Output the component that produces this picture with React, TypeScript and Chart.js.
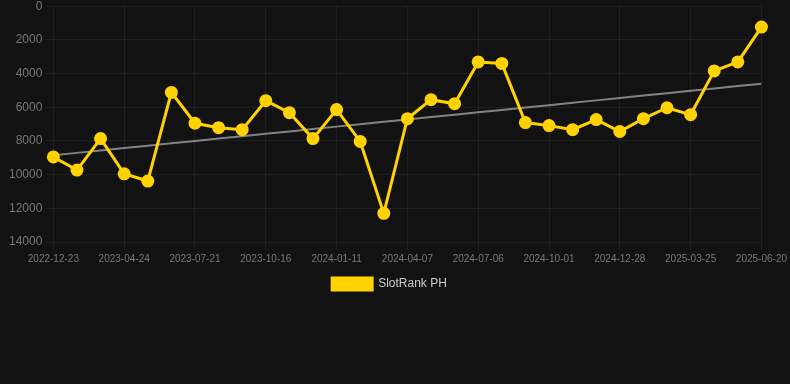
import React, { useEffect, useRef } from "react";
import { Chart, registerables } from "chart.js";

Chart.register(...registerables);

const labels: string[] = [
  "2022-12-23", "2023-02-01", "2023-03-14",
  "2023-04-24", "2023-05-23", "2023-06-21",
  "2023-07-21", "2023-08-19", "2023-09-17",
  "2023-10-16", "2023-11-14", "2023-12-13",
  "2024-01-11", "2024-02-09", "2024-03-09",
  "2024-04-07", "2024-05-07", "2024-06-06",
  "2024-07-06", "2024-08-04", "2024-09-02",
  "2024-10-01", "2024-10-30", "2024-11-28",
  "2024-12-28", "2025-01-26", "2025-02-24",
  "2025-03-25", "2025-04-23", "2025-05-22",
  "2025-06-20",
];

const rankValues: number[] = [
  8950, 9730, 7860, 9950, 10380, 5120, 6950, 7210, 7330, 5610,
  6320, 7860, 6140, 8030, 12300, 6680, 5550, 5790, 3310, 3400,
  6910, 7090, 7330, 6730, 7440, 6680, 6030, 6440, 3840, 3310,
  1240,
];

const trendStart = 8850;
const trendEnd = 4600;

const yTicks: number[] = [0, 2000, 4000, 6000, 8000, 10000, 12000, 14000];

const YELLOW = "#FFD200";
const GRID = "rgba(255,255,255,0.055)";
const FONT = "Arial, 'Liberation Sans', sans-serif";

export default function App() {
  const ref = useRef<HTMLCanvasElement | null>(null);

  useEffect(() => {
    document.body.style.margin = "0";
    document.body.style.background = "#121212";
    if (!ref.current) return;
    const n = labels.length;
    const trend = labels.map((_, i) => trendStart + ((trendEnd - trendStart) * i) / (n - 1));
    const chart = new Chart(ref.current, {
      type: "line",
      data: {
        labels,
        datasets: [
          {
            label: "SlotRank PH",
            data: rankValues,
            borderColor: YELLOW,
            backgroundColor: YELLOW,
            borderWidth: 3,
            pointRadius: 5,
            pointHoverRadius: 5,
            pointBackgroundColor: YELLOW,
            pointBorderColor: YELLOW,
            tension: 0,
          },
          {
            label: "trend",
            data: trend,
            borderColor: "rgba(150,150,150,0.85)",
            backgroundColor: "rgba(150,150,150,0.85)",
            borderWidth: 2,
            pointRadius: 0,
            tension: 0,
          },
        ],
      },
      options: {
        animation: false,
        responsive: false,
        maintainAspectRatio: false,
        layout: { padding: { left: 6, right: 17, top: -8, bottom: 0 } },
        plugins: {
          tooltip: { enabled: false },
          legend: {
            position: "bottom",
            labels: {
              filter: (item) => item.text !== "trend",
              boxWidth: 40,
              boxHeight: 12,
              color: "#cccccc",
              font: { family: FONT, size: 12 },
              padding: 10,
            },
          },
        },
        scales: {
          x: {
            grid: {
              color: (ctx) => (ctx.index % 3 === 0 ? GRID : "rgba(0,0,0,0)"),
              drawTicks: true,
              tickLength: 8,
            },
            border: { display: false },
            ticks: {
              color: "#777777",
              font: { family: FONT, size: 10 },
              autoSkip: false,
              maxRotation: 0,
              minRotation: 0,
              callback: (_v, i) => (i % 3 === 0 ? labels[i] : ""),
            },
          },
          y: {
            reverse: true,
            min: 0,
            max: 14000,
            afterBuildTicks: (axis) => {
              axis.ticks = yTicks.map((v) => ({ value: v }));
            },
            grid: { color: GRID },
            border: { display: false },
            ticks: {
              color: "#777777",
              font: { family: FONT, size: 12 },
              padding: 3,
              callback: (v) => String(v),
            },
          },
        },
      },
    });
    return () => chart.destroy();
  }, []);

  return (
    <div style={{ width: 790, height: 384, background: "#121212", overflow: "hidden" }}>
      <canvas ref={ref} width={790} height={304} style={{ display: "block", marginTop: -4 }} />
    </div>
  );
}
